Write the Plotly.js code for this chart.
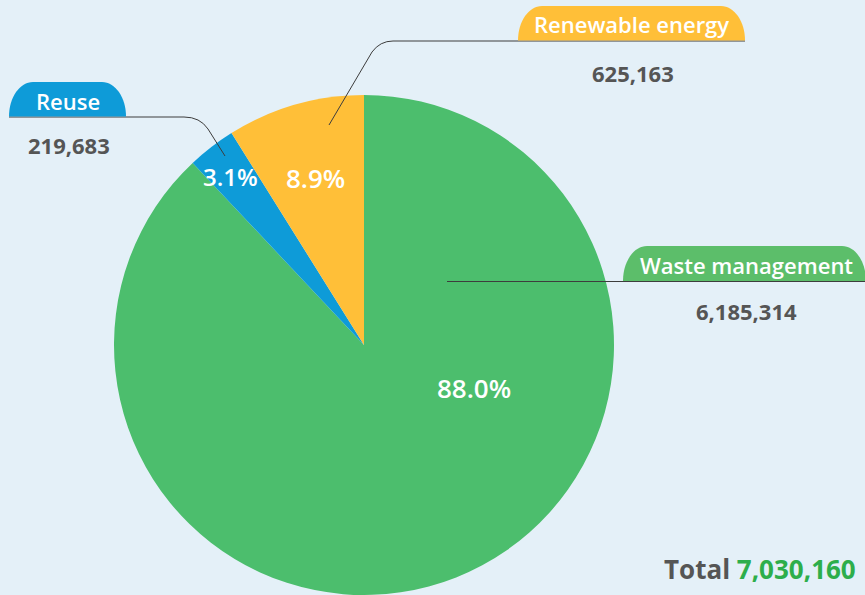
<!DOCTYPE html>
<html>
<head>
<meta charset="utf-8">
<script src="https://cdn.plot.ly/plotly-3.0.1.min.js"></script>
<style>html,body{margin:0;padding:0;background:#E4F0F8;}#chart{width:865px;height:595px;}</style>
</head>
<body>
<div id="chart"></div>
<script>
const categories = ["Waste management", "Reuse", "Renewable energy"];
const values = [6185314, 219683, 625163];
const sliceColors = ["#4CBE6D", "#0E9BD8", "#FFBF38"];
const totalLabel = "Total";

const W = 865, H = 595;
const FONT = "Open Sans, sans-serif";
const px = x => x / W;
const py = y => 1 - y / H;
const total = values.reduce((a, b) => a + b, 0);
const fmt = v => v.toLocaleString("en-US");
const pct = v => (100 * v / total).toFixed(1) + "%";

function pillPath(x0, x1, yt, yb, rx) {
  const k = 0.552;
  const h = yb - yt;
  const p = (x, y) => px(x) + "," + py(y);
  return "M" + p(x0, yb) +
    " C" + p(x0, yb - k * h) + " " + p(x0 + rx - k * rx, yt) + " " + p(x0 + rx, yt) +
    " L" + p(x1 - rx, yt) +
    " C" + p(x1 - rx + k * rx, yt) + " " + p(x1, yb - k * h) + " " + p(x1, yb) + " Z";
}
const P = (x, y) => px(x) + "," + py(y);

const shapes = [
  // leader lines
  {type: "path", xref: "paper", yref: "paper", line: {color: "#3d3d3d", width: 1},
   path: "M" + P(9, 117) + " L" + P(184, 117) + " Q" + P(200, 117) + " " + P(208, 129) + " L" + P(225, 156)},
  {type: "path", xref: "paper", yref: "paper", line: {color: "#3d3d3d", width: 1},
   path: "M" + P(745, 41) + " L" + P(393, 41) + " Q" + P(380, 41) + " " + P(372, 52) + " L" + P(329, 125)},
  {type: "path", xref: "paper", yref: "paper", line: {color: "#3d3d3d", width: 1},
   path: "M" + P(447, 281.5) + " L" + P(870, 281.5)},
  // pills
  {type: "path", xref: "paper", yref: "paper", line: {width: 0}, fillcolor: "#0E9BD8",
   path: pillPath(9, 126, 82, 116.5, 24)},
  {type: "path", xref: "paper", yref: "paper", line: {width: 0}, fillcolor: "#FFBF38",
   path: pillPath(518, 745, 6, 40.5, 24)},
  {type: "path", xref: "paper", yref: "paper", line: {width: 0}, fillcolor: "#5CBE6A",
   path: pillPath(623, 866, 246, 281, 24)}
];

const pillFont = {family: FONT, size: 22, color: "#ffffff", weight: 600};
const numFont = {family: FONT, size: 22, color: "#555555", weight: 700};
const pctFont = {family: FONT, size: 26, color: "#ffffff", weight: 600};

const annotations = [
  {text: categories[1], x: px(68), y: py(101), font: pillFont},
  {text: categories[2], x: px(631), y: py(24), font: pillFont},
  {text: categories[0], x: px(746), y: py(265), font: pillFont},
  {text: fmt(values[1]), x: px(69), y: py(145), font: numFont},
  {text: fmt(values[2]), x: px(633), y: py(73), font: numFont},
  {text: fmt(values[0]), x: px(746), y: py(311), font: numFont},
  {text: pct(values[0]), x: px(474), y: py(388), font: pctFont},
  {text: pct(values[2]), x: px(315), y: py(178), font: pctFont},
  {text: pct(values[1]), x: px(231), y: py(176), font: {family: FONT, size: 24, color: "#ffffff", weight: 600}},
  {text: totalLabel + " <span style='color:#2DAE4B'>" + fmt(total) + "</span>", x: px(858), y: py(569),
   xanchor: "right", font: {family: FONT, size: 26, color: "#555555", weight: 700}}
].map(a => Object.assign({xref: "paper", yref: "paper", showarrow: false, xanchor: "center", yanchor: "middle"}, a));

const trace = {
  type: "pie",
  labels: categories,
  values: values,
  marker: {colors: sliceColors, line: {width: 0}},
  sort: false,
  direction: "clockwise",
  rotation: 0,
  textinfo: "none",
  hoverinfo: "skip",
  showlegend: false,
  domain: {x: [114 / W, 614 / W], y: [0, 500 / H]}
};

const layout = {
  width: W, height: H,
  margin: {l: 0, r: 0, t: 0, b: 0},
  paper_bgcolor: "#E4F0F8",
  plot_bgcolor: "#E4F0F8",
  showlegend: false,
  shapes: shapes,
  annotations: annotations
};

Plotly.newPlot("chart", [trace], layout, {displayModeBar: false, staticPlot: true});
</script>
</body>
</html>
